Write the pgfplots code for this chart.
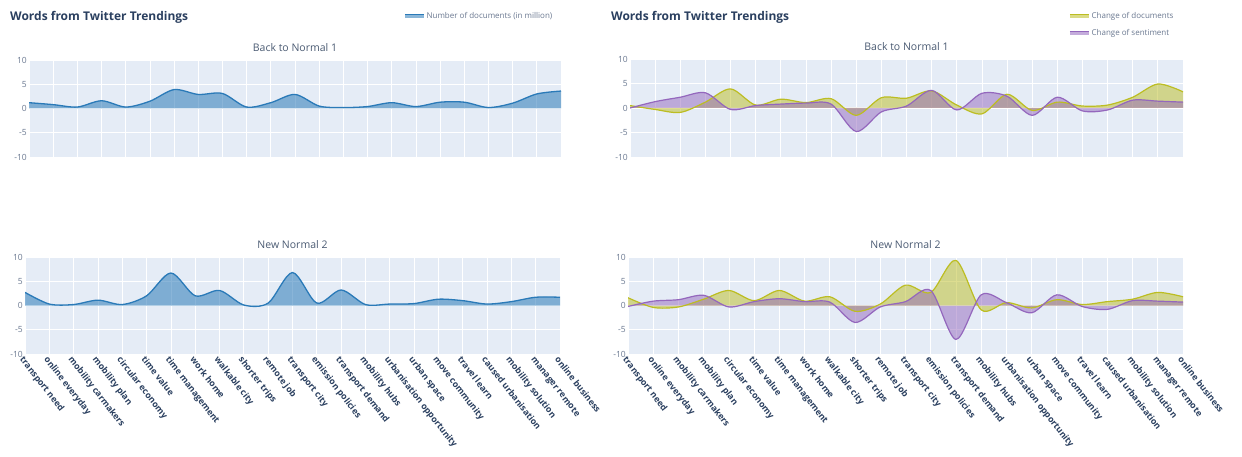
\documentclass[border=0pt]{standalone}
\usepackage{fontspec}
\setmainfont{Open Sans}
\usepackage{pgfplots}
\usepackage{pgfplotstable}
\pgfplotsset{compat=1.18}

\definecolor{plotbg}{HTML}{E5ECF6}
\definecolor{cblue}{HTML}{2A7AB8}
\definecolor{colive}{HTML}{BCBD22}
\definecolor{cpurple}{HTML}{9467BD}
\definecolor{titlecol}{HTML}{2A3F5F}
\definecolor{subcol}{HTML}{4A5A72}
\definecolor{tickcol}{HTML}{6A7890}

% Back to Normal 1, left: number of documents
\pgfplotstableread{
x y
0 1.2
1 0.8
2 0.3
3 1.6
4 0.3
5 1.5
6 3.9
7 2.9
8 3.1
9 0.3
10 1.2
11 2.9
12 0.5
13 0.2
14 0.4
15 1.2
16 0.4
17 1.3
18 1.3
19 0.2
20 1.1
21 3.0
22 3.6
}\tlData

% New Normal 2, left
\pgfplotstableread{
x y
0 2.7
1 0.3
2 0.2
3 1.1
4 0.2
5 2.0
6 6.7
7 2.0
8 3.1
9 0.1
10 0.5
11 6.8
12 0.5
13 3.2
14 0.2
15 0.3
16 0.4
17 1.3
18 1.0
19 0.3
20 0.8
21 1.7
22 1.7
}\blData

% Back to Normal 1, right: change of documents / sentiment
\pgfplotstableread{
x doc sent
0 0.5 0.0
1 -0.3 1.3
2 -0.9 2.2
3 1.2 3.1
4 3.9 -0.3
5 0.6 0.5
6 1.8 0.8
7 1.1 1.0
8 1.9 0.8
9 -1.5 -4.8
10 2.1 -0.8
11 2.0 0.4
12 3.5 3.6
13 0.6 -0.4
14 -1.2 3.0
15 2.8 2.4
16 -0.5 -1.5
17 1.2 2.2
18 0.4 -0.6
19 0.6 -0.4
20 2.2 1.6
21 4.9 1.4
22 3.3 1.2
}\trData

% New Normal 2, right
\pgfplotstableread{
x doc sent
0 1.6 -0.2
1 -0.4 0.9
2 -0.3 1.2
3 1.3 2.1
4 3.1 -0.3
5 1.0 0.8
6 3.1 1.4
7 0.9 0.8
8 1.8 0.7
9 -1.2 -3.5
10 0.3 -0.3
11 4.2 0.8
12 2.7 3.1
13 9.3 -7.0
14 -0.9 2.2
15 0.6 0.6
16 -0.5 -1.5
17 1.2 2.2
18 0.2 -0.2
19 0.8 -0.8
20 1.3 1.0
21 2.7 0.9
22 1.8 0.7
}\brData

\pgfplotsset{
  panel/.style={
    scale only axis,
    xmin=0, xmax=22, ymin=-10, ymax=10,
    axis background/.style={fill=plotbg},
    axis line style={draw=none},
    major tick length=0pt,
    xtick={0,...,22},
    ytick={-10,-5,0,5,10},
    grid=major,
    grid style={white, line width=0.8pt},
    /pgf/number format/assume math mode=true,
    yticklabel style={font=\fontsize{8.5}{9}\selectfont, text=tickcol, inner sep=2pt},
    xticklabel style={rotate=-52, anchor=north west, inner sep=1pt,
      font=\bfseries\fontsize{8.8}{9}\selectfont, text=titlecol},
    title style={at={(0.5,1)}, anchor=south, yshift=-1pt,
      font=\fontsize{10.5}{12}\selectfont, text=subcol},
    legend cell align=left,
    legend style={draw=none, fill=none, inner sep=0pt, row sep=5pt,
      font=\fontsize{8}{9}\selectfont, text=tickcol},
    legend image code/.code={
      \fill[#1, draw=none, opacity=0.55] (0pt,-2pt) rectangle (19pt,2pt);
      \draw[#1, line width=1.3pt] (0pt,1.6pt) -- (19pt,1.6pt);},
  },
  cats/.style={xticklabels={transport need, online everyday, mobility carmakers,
    mobility plan, circular economy, time value, time management, work home,
    walkable city, shorter trips, remote job, transport city, emission policies,
    transport demand, mobility hubs, urbanisation opportunity, urban space,
    move community, travel learn, caused urbanisation, mobility solution,
    manager remote, online business}},
}

\begin{document}
\begin{tikzpicture}
\useasboundingbox (0pt,0pt) rectangle (1242pt,-457pt);

\node[anchor=west, inner sep=0pt, font=\bfseries\fontsize{12}{14}\selectfont, text=titlecol]
  at (10pt,-17pt) {Words from Twitter Trendings};
\node[anchor=west, inner sep=0pt, font=\bfseries\fontsize{12}{14}\selectfont, text=titlecol]
  at (611pt,-17pt) {Words from Twitter Trendings};

% top left
\begin{axis}[panel, at={(29pt,-60pt)}, anchor=north west, width=532pt, height=97pt,
  title={Back to Normal 1}, xticklabels={},
  legend style={at={(0.705,1.454)}, anchor=west}]
\addplot[white, line width=1.6pt, forget plot] coordinates {(0,0) (22,0)};
\addplot[draw=none, fill=cblue, fill opacity=0.55, smooth, forget plot] table[x=x, y=y] {\tlData} \closedcycle;
\addplot[cblue, line width=1.3pt, smooth] table[x=x, y=y] {\tlData};
\addlegendentry{Number of documents (in million)}
\end{axis}

% bottom left
\begin{axis}[panel, cats, at={(25pt,-257pt)}, anchor=north west, width=535pt, height=97pt,
  title={New Normal 2}]
\addplot[white, line width=1.6pt, forget plot] coordinates {(0,0) (22,0)};
\addplot[draw=none, fill=cblue, fill opacity=0.55, smooth, forget plot] table[x=x, y=y] {\blData} \closedcycle;
\addplot[cblue, line width=1.3pt, smooth] table[x=x, y=y] {\blData};
\end{axis}

% top right
\begin{axis}[panel, at={(630pt,-59pt)}, anchor=north west, width=553pt, height=98pt,
  title={Back to Normal 1}, xticklabels={},
  legend style={at={(0.794,1.35)}, anchor=west}]
\addplot[white, line width=1.6pt, forget plot] coordinates {(0,0) (22,0)};
\addplot[draw=none, fill=colive, fill opacity=0.5, smooth, forget plot] table[x=x, y=doc] {\trData} \closedcycle;
\addplot[draw=none, fill=cpurple, fill opacity=0.5, smooth, forget plot] table[x=x, y=sent] {\trData} \closedcycle;
\addplot[colive, line width=1.2pt, smooth] table[x=x, y=doc] {\trData};
\addlegendentry{Change of documents}
\addplot[cpurple, line width=1.2pt, smooth] table[x=x, y=sent] {\trData};
\addlegendentry{Change of sentiment}
\end{axis}

% bottom right
\begin{axis}[panel, cats, at={(628pt,-257pt)}, anchor=north west, width=555pt, height=97pt,
  title={New Normal 2}]
\addplot[white, line width=1.6pt, forget plot] coordinates {(0,0) (22,0)};
\addplot[draw=none, fill=colive, fill opacity=0.5, smooth, forget plot] table[x=x, y=doc] {\brData} \closedcycle;
\addplot[draw=none, fill=cpurple, fill opacity=0.5, smooth, forget plot] table[x=x, y=sent] {\brData} \closedcycle;
\addplot[colive, line width=1.2pt, smooth] table[x=x, y=doc] {\brData};
\addplot[cpurple, line width=1.2pt, smooth] table[x=x, y=sent] {\brData};
\end{axis}
\end{tikzpicture}
\end{document}
